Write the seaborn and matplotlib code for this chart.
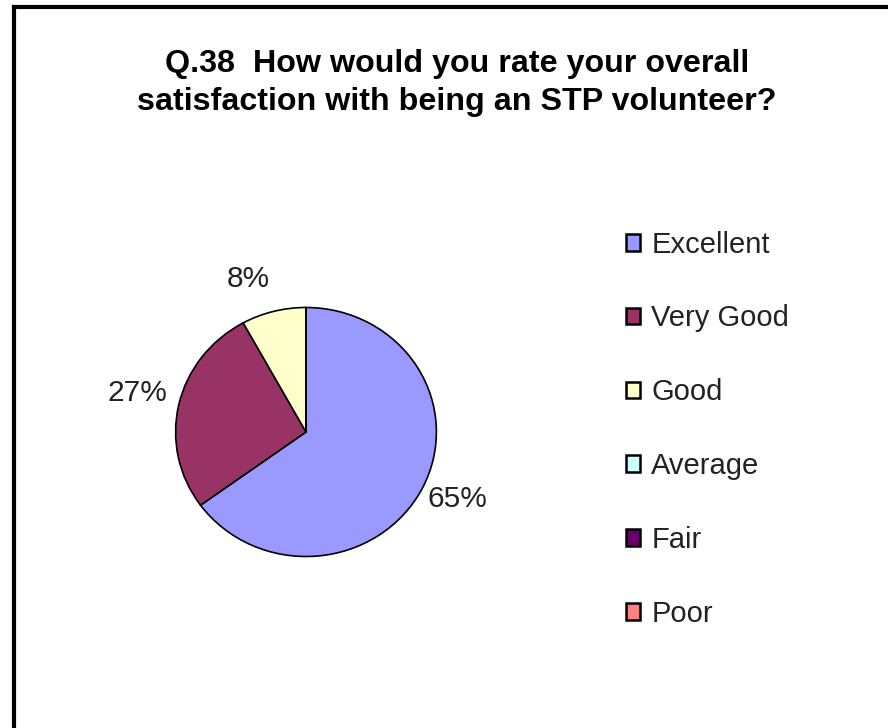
import matplotlib
matplotlib.use("Agg")
import matplotlib.pyplot as plt
import seaborn as sns
from matplotlib.lines import Line2D

categories = ["Excellent", "Very Good", "Good", "Average", "Fair", "Poor"]
values = [65, 27, 8, 0, 0, 0]
colors = ["#9999FF", "#993366", "#FFFFCC", "#CCFFFF", "#660066", "#FF8080"]
title = "Q.38  How would you rate your overall\nsatisfaction with being an STP volunteer?"

sns.set_theme(style="white")
plt.rcParams["font.family"] = ["Liberation Sans", "DejaVu Sans"]
palette = sns.color_palette(colors)

W, H = 888, 728
fig = plt.figure(figsize=(W / 100, H / 100), dpi=100)
fig.patch.set_facecolor("white")

# frame (left and top edges visible, runs off right/bottom)
fig.add_artist(Line2D([14 / W, 14 / W], [0, 1 - 7 / H], transform=fig.transFigure,
                      color="black", lw=3, solid_capstyle="projecting"))
fig.add_artist(Line2D([14 / W, 1], [1 - 7 / H, 1 - 7 / H], transform=fig.transFigure,
                      color="black", lw=3, solid_capstyle="projecting"))

fig.text(457 / W, 1 - 83 / H, title, ha="center", va="center", fontsize=23.2,
         fontweight="bold", linespacing=1.37, color="black")

# pie axes
left, right, top, bottom = 173, 439, 305, 559
ax = fig.add_axes([left / W, 1 - bottom / H, (right - left) / W, (bottom - top) / H])
labels = [f"{v}%" if v else "" for v in values]
wedges, texts = ax.pie(values, colors=palette, startangle=90, counterclock=False,
                       labels=labels, labeldistance=1.1,
                       wedgeprops=dict(edgecolor="black", linewidth=1.2),
                       textprops=dict(fontsize=21.5, color="#222222"))
ax.set_xlim(-1.02, 1.02)
ax.set_ylim(-1.02, 1.02)
ax.set_aspect("auto")
ax.axis("off")

label_pos = {"65%": (1.16, -0.54), "27%": (-1.29, 0.31), "8%": (-0.44, 1.23)}
for t in texts:
    s = t.get_text()
    if s in label_pos:
        t.set_position(label_pos[s])
        t.set_ha("center")
        t.set_va("center")

leg = fig.legend(wedges, categories, loc="upper left",
                 bbox_to_anchor=(611 / W, 1 - 216 / H), frameon=False,
                 fontsize=21, handlelength=0.5, handleheight=0.5,
                 handletextpad=0.38, labelspacing=1.57, borderpad=0)
for t in leg.get_texts():
    t.set_color("#222222")
for h in leg.legend_handles:
    h.set_edgecolor("black")
    h.set_linewidth(1.8)

fig.savefig("out.png", dpi=100, facecolor="white")
